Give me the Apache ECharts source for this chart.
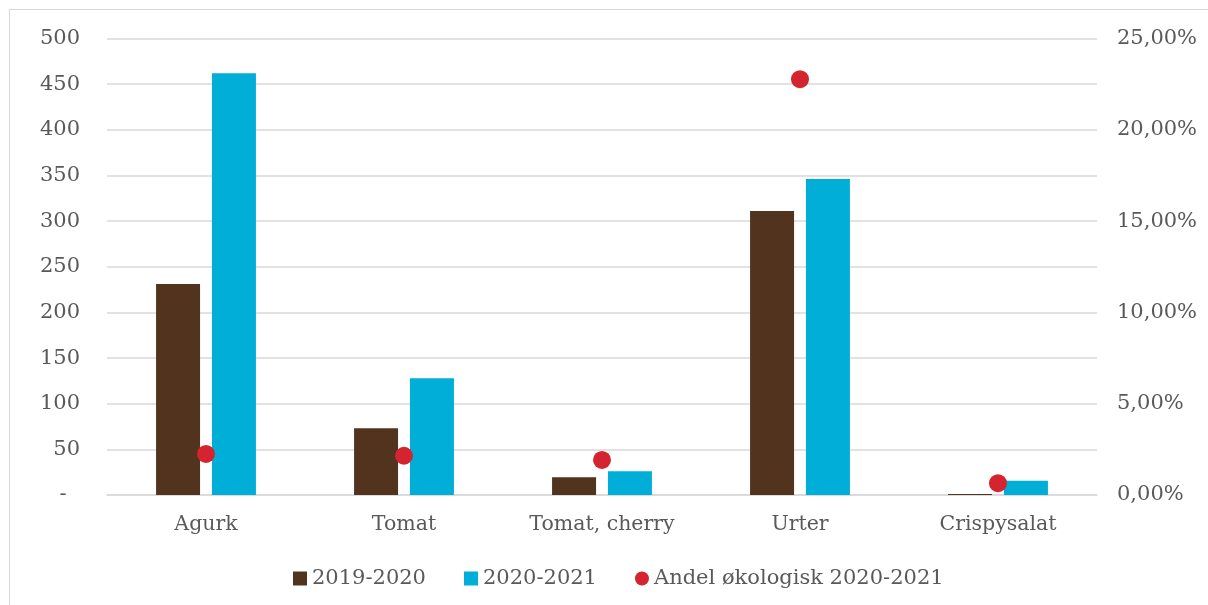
<!DOCTYPE html>
<html>
<head>
<meta charset="utf-8">
<script src="https://cdn.jsdelivr.net/npm/echarts@6/dist/echarts.min.js"></script>
<style>
  html, body { margin: 0; padding: 0; background: #fff; }
  #frame { position: absolute; left: 9px; top: 9px; width: 1220px; height: 620px; border: 1px solid #d9d9d9; }
  #chart { width: 1208px; height: 605px; position: absolute; left: 0; top: 0; }
</style>
</head>
<body>
<div id="frame"></div>
<div id="chart"></div>
<script>
// data
var categories = ['Agurk', 'Tomat', 'Tomat, cherry', 'Urter', 'Crispysalat']
var season1920 = [231, 73, 19.5, 311, 1]
var season2021 = [462, 128, 26, 346, 15.5]
var andelOko = [2.25, 2.15, 1.92, 22.77, 0.65]

var fontFam = '"DejaVu Serif", "Liberation Serif", serif'
var txtColor = '#595959'

var chart = echarts.init(document.getElementById('chart'))
var option = {
  animation: false,
  textStyle: { fontFamily: fontFam },
  grid: { left: 107, right: 111, top: 38.5, bottom: 110, containLabel: false },
  legend: {
    bottom: 11,
    left: 288,
    itemGap: 38,
    itemWidth: 14,
    itemHeight: 14,
    textStyle: { color: txtColor, fontSize: 21, fontFamily: fontFam },
    data: [
      { name: '2019-2020', icon: 'rect' },
      { name: '2020-2021', icon: 'rect' },
      { name: 'Andel økologisk 2020-2021', icon: 'circle' }
    ]
  },
  xAxis: {
    type: 'category',
    data: categories,
    axisTick: { show: false },
    axisLine: { lineStyle: { color: '#d9d9d9', width: 1.5 } },
    axisLabel: { color: txtColor, fontSize: 20.5, margin: 19, fontFamily: fontFam }
  },
  yAxis: [
    {
      type: 'value',
      min: 0, max: 500, interval: 50,
      axisLine: { show: false },
      axisTick: { show: false },
      splitLine: { lineStyle: { color: '#d9d9d9', width: 1.5 } },
      axisLabel: {
        color: txtColor, fontSize: 21, margin: 27, fontFamily: fontFam,
        formatter: function (v) { return v === 0 ? '-  ' : String(v) }
      }
    },
    {
      type: 'value',
      min: 0, max: 25, interval: 5,
      axisLine: { show: false },
      axisTick: { show: false },
      splitLine: { show: false },
      axisLabel: {
        color: txtColor, fontSize: 21, margin: 20, fontFamily: fontFam,
        formatter: function (v) { return v.toFixed(2).replace('.', ',') + '%' }
      }
    }
  ],
  series: [
    {
      name: '2019-2020', type: 'bar', data: season1920,
      barWidth: 44, barGap: '27%',
      itemStyle: { color: '#52331d' }
    },
    {
      name: '2020-2021', type: 'bar', data: season2021,
      barWidth: 44,
      itemStyle: { color: '#00aed8' }
    },
    {
      name: 'Andel økologisk 2020-2021', type: 'scatter', yAxisIndex: 1,
      data: andelOko, symbolSize: 18,
      itemStyle: { color: '#d42430', opacity: 1 }, z: 5
    }
  ]
}
chart.setOption(option)
</script>
</body>
</html>
